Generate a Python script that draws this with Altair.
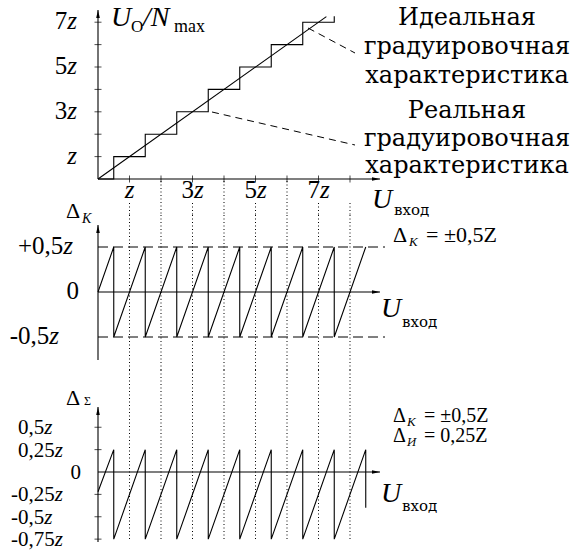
import altair as alt
import pandas as pd

# ---------------- values (units of z) ----------------
levels = [1, 2, 3, 4, 5, 6, 7]                 # output code levels
input_ticks = [1, 2, 3, 4, 5, 6, 7, 8]         # input voltage ticks

# ideal calibration line
ideal_u = [0.0, 7.25]
ideal_v = [0.0, 7.25]

# real (staircase) calibration characteristic
stair_u = [0.0, 0.5, 1.5, 2.5, 3.5, 4.5, 5.5, 6.5, 7.5, 7.5]
stair_v = [0.0, 1.0, 2.0, 3.0, 4.0, 5.0, 6.0, 7.0, 7.0, 7.27]

# quantisation error
err_u = [0.0, 0.5, 0.5, 1.5, 1.5, 2.5, 2.5, 3.5, 3.5, 4.5, 4.5, 5.5, 5.5, 6.5, 6.5, 7.5, 7.5, 8.5]
err_v = [0.0, 0.5, -0.5, 0.5, -0.5, 0.5, -0.5, 0.5, -0.5, 0.5, -0.5, 0.5, -0.5, 0.5, -0.5, 0.5, -0.5, 0.5]
err_limits = [0.5, -0.5]

# total error (quantisation + instrumental)
tot_u = [0.0, 0.5, 0.5, 1.5, 1.5, 2.5, 2.5, 3.5, 3.5, 4.5, 4.5, 5.5, 5.5, 6.5, 6.5, 7.5, 7.5, 8.5, 8.5]
tot_v = [-0.22, 0.25, -0.75, 0.25, -0.75, 0.25, -0.75, 0.25, -0.75, 0.25, -0.75, 0.25, -0.75,
         0.25, -0.75, 0.25, -0.75, 0.25, -0.4]
tot_ticks = [0.5, 0.25, -0.25, -0.5, -0.75]

# tick labels
top_y_vals = [1, 3, 5, 7]
top_y_text = ["z", "3z", "5z", "7z"]
top_x_vals = [1, 3, 5, 7]
top_x_text = ["z", "3z", "5z", "7z"]
mid_y_vals = [0.5, 0.0, -0.5]
mid_y_text = ["+0,5z", "0", "-0,5z"]
bot_y_vals = [0.5, 0.25, 0.0, -0.25, -0.5, -0.75]
bot_y_text = ["0,5z", "0,25z", "0", "-0,25z", "-0,5z", "-0,75z"]

ideal_label = ["Идеальная", "градуировочная", "характеристика"]
real_label = ["Реальная", "градуировочная", "характеристика"]

# ---------------- layout ----------------
W = 575
PXU = 31.5                       # pixels per z along the input axis
ORIGIN_X = 98
D0, D1 = -ORIGIN_X / PXU, (W - ORIGIN_X) / PXU
FONT = "serif"                   # Latin / Greek text
CYR_FONT = "DejaVu Serif"        # Cyrillic text
TICK_FS = 25
BOT_FS = 21
EQ_FS = 20
CHAR_W = {"0": .5, "1": .5, "2": .5, "3": .5, "4": .5, "5": .5, "6": .5, "7": .5, "8": .5,
          "9": .5, ",": .25, "-": .333, "+": .564}
Z_W = 0.389


def panel(offset, height, zero_y, scale):
    return dict(off=offset, h=height, zero=zero_y, s=scale,
                dom=[(zero_y - offset - height) / scale, (zero_y - offset) / scale])


TOP = panel(0, 215, 179, 22.4)
MID = panel(215, 155, 292, 90.0)
BOT = panel(370, 184, 472, 89.5)


def pu(px):
    return (px - ORIGIN_X) / PXU


def pv(p, py):
    return (p["zero"] - py) / p["s"]


def X(field="u"):
    return alt.X(f"{field}:Q", scale=alt.Scale(domain=[D0, D1], nice=False, zero=False), axis=None)


def Y(p, field="v"):
    return alt.Y(f"{field}:Q", scale=alt.Scale(domain=p["dom"], nice=False, zero=False), axis=None)


def segs(p, rows, **mk):
    df = pd.DataFrame(rows, columns=["u", "v", "u2", "v2"])
    return alt.Chart(df).mark_rule(color="black", **mk).encode(
        x=X(), y=Y(p), x2=alt.X2("u2:Q"), y2=alt.Y2("v2:Q"))


def polyline(p, us, vs, interp="linear", width=1.1):
    df = pd.DataFrame({"u": us, "v": vs, "i": range(len(us))})
    return alt.Chart(df).mark_line(color="black", strokeWidth=width, interpolate=interp).encode(
        x=X(), y=Y(p), order="i:Q")


ARROW = "M0,0L0.45,2L-0.45,2Z"


def arrows(p, rows):
    df = pd.DataFrame(rows, columns=["u", "v", "a"])
    return alt.Chart(df).mark_point(shape=ARROW, filled=True, size=64, color="black",
                                    opacity=1, strokeWidth=0).encode(
        x=X(), y=Y(p), angle=alt.Angle("a:Q", scale=None))


def ticks(p, us, vs, orient):
    df = pd.DataFrame({"u": us, "v": vs})
    return alt.Chart(df).mark_tick(orient=orient, size=7, thickness=1, color="black").encode(
        x=X(), y=Y(p))


def texts(p, rows, size, italic=False, align="left", dx=0, dy=0, font=FONT):
    df = pd.DataFrame(rows, columns=["u", "v", "t"])
    return alt.Chart(df).mark_text(font=font, fontSize=size, align=align, baseline="alphabetic",
                                   fontStyle="italic" if italic else "normal",
                                   color="black", dx=dx, dy=dy).encode(
        x=X(), y=Y(p), text="t:N")


def ann(p, items, size, italic=False, align="left", font=FONT):
    return texts(p, [(pu(x), pv(p, y), t) for x, y, t in items], size, italic, align, font=font)


def width(s, fs):
    return sum(CHAR_W.get(c, .5) for c in s) * fs


def split_left(vals, labels, left_px, zero_right_px, fs):
    """numeral part and italic z part of labels, left-aligned (minus sign hangs)."""
    nums, zs = [], []
    for v, s in zip(vals, labels):
        if s.endswith("z"):
            num = s[:-1]
            start = left_px - (width("-", fs) if num.startswith("-") else 0)
            nums.append((pu(start), v, num))
            zs.append((pu(start + width(num, fs)), v, "z"))
        else:
            nums.append((pu(zero_right_px - width(s, fs)), v, s))
    return nums, zs


def dotted(p, v_from, v_to, us):
    rows = [(u, a, u, b) for u, a, b in zip(us, v_from, v_to)]
    return segs(p, rows, strokeDash=[1, 2.5], strokeWidth=1)


# ---------------- top panel: calibration characteristics ----------------
zw = Z_W * TICK_FS
top_bottom = TOP["dom"][0]
dot_top_start = [pv(TOP, 203) if u % 2 == 1 or u == 8 else pv(TOP, 181) for u in input_ticks]

ty_num = [(pu(77 - zw), v, s[:-1]) for v, s in zip(top_y_vals, top_y_text) if len(s) > 1]
ty_z = [(pu(77), v, "z") for v in top_y_vals]
num_w = width("3", TICK_FS)
tx_num = [(u - ((num_w + zw) / 2) / PXU, 0, s[:-1]) for u, s in zip(top_x_vals, top_x_text) if len(s) > 1]
tx_z = [(u - ((num_w + zw) / 2) / PXU + num_w / PXU, 0, "z") for u, s in zip(top_x_vals, top_x_text) if len(s) > 1]
tx_z1 = [(u - (zw / 2) / PXU, 0, "z") for u, s in zip(top_x_vals, top_x_text) if len(s) == 1]

top = alt.layer(
    dotted(TOP, dot_top_start, [top_bottom] * len(input_ticks), input_ticks),
    segs(TOP, [(0, 0, pu(380), 0), (0, 0, 0, pv(TOP, 10))], strokeWidth=1.1),
    arrows(TOP, [(0, pv(TOP, 10), 0), (pu(380), 0, 90)]),
    ticks(TOP, [0] * len(levels), levels, "horizontal"),
    ticks(TOP, input_ticks, [0] * len(input_ticks), "vertical"),
    polyline(TOP, ideal_u, ideal_v),
    polyline(TOP, stair_u, stair_v, interp="step-after"),
    segs(TOP, [(pu(308), pv(TOP, 28), pu(355), pv(TOP, 53)),
               (pu(212), pv(TOP, 112), pu(355), pv(TOP, 145))],
         strokeDash=[7, 5], strokeWidth=1),
    texts(TOP, ty_num, TICK_FS, align="right", dy=7),
    texts(TOP, ty_z, TICK_FS, italic=True, align="right", dy=7),
    texts(TOP, tx_num, TICK_FS, align="left", dy=19),
    texts(TOP, tx_z + tx_z1, TICK_FS, italic=True, align="left", dy=19),
    ann(TOP, [(467, 25 + 29 * i, t) for i, t in enumerate(ideal_label)], 24, align="center",
        font=CYR_FONT),
    ann(TOP, [(467, 118 + 27.5 * i, t) for i, t in enumerate(real_label)], 24, align="center",
        font=CYR_FONT),
    ann(TOP, [(111, 26, "U"), (143, 26, "/N")], 28, italic=True),
    ann(TOP, [(131, 32, "O")], 17),
    ann(TOP, [(174, 32, "max")], 18),
    ann(TOP, [(372, 208, "U")], 28, italic=True),
    ann(TOP, [(394, 215, "вход")], 15, font=CYR_FONT),
).properties(width=W, height=TOP["h"])

# ---------------- middle panel: quantisation error ----------------
mid_nums, mid_zs = split_left(mid_y_vals, mid_y_text, 18, 79, TICK_FS)
mid = alt.layer(
    dotted(MID, [MID["dom"][1]] * 8, [MID["dom"][0]] * 8, input_ticks),
    segs(MID, [(0, e, pu(385), e) for e in err_limits], strokeDash=[10, 5], strokeWidth=1),
    segs(MID, [(0, 0, pu(380), 0), (0, pv(MID, 360), 0, pv(MID, 225))], strokeWidth=1.1),
    arrows(MID, [(0, pv(MID, 225), 0), (pu(380), 0, 90)]),
    polyline(MID, err_u, err_v),
    texts(MID, mid_nums, TICK_FS, dy=7),
    texts(MID, mid_zs, TICK_FS, italic=True, dy=7),
    ann(MID, [(66, 218, "Δ")], 22),
    ann(MID, [(393, 242, "Δ")], EQ_FS + 2),
    ann(MID, [(82, 223, "K")], 14, italic=True),
    ann(MID, [(409, 246, "K")], 13, italic=True),
    ann(MID, [(426, 242, "= ±0,5Z")], EQ_FS + 2),
    ann(MID, [(381, 317, "U")], 28, italic=True),
    ann(MID, [(402, 327, "вход")], 15, font=CYR_FONT),
).properties(width=W, height=MID["h"])

# ---------------- bottom panel: total error ----------------
bot_nums, bot_zs = split_left(bot_y_vals, bot_y_text, 18, 81, BOT_FS)
bot = alt.layer(
    dotted(BOT, [BOT["dom"][1]] * 8, [pv(BOT, 540)] * 8, input_ticks),
    segs(BOT, [(0, 0, pu(380), 0), (0, pv(BOT, 542), 0, pv(BOT, 407))], strokeWidth=1.1),
    arrows(BOT, [(0, pv(BOT, 407), 0), (pu(380), 0, 90)]),
    ticks(BOT, [0] * len(tot_ticks), tot_ticks, "horizontal"),
    polyline(BOT, tot_u, tot_v),
    texts(BOT, bot_nums, BOT_FS, dy=7),
    texts(BOT, bot_zs, BOT_FS, italic=True, dy=7),
    ann(BOT, [(66, 405, "Δ")], 22),
    ann(BOT, [(393, 422, "Δ"), (393, 442, "Δ")], EQ_FS),
    ann(BOT, [(84, 405, "Σ")], 12),
    ann(BOT, [(407, 426, "K")], 13, italic=True),
    ann(BOT, [(407, 446, "И")], 11, italic=True, font=CYR_FONT),
    ann(BOT, [(424, 422, "= ±0,5Z"), (424, 442, "= 0,25Z")], EQ_FS),
    ann(BOT, [(381, 502, "U")], 28, italic=True),
    ann(BOT, [(402, 511, "вход")], 15, font=CYR_FONT),
).properties(width=W, height=BOT["h"])

chart = (
    alt.vconcat(top, mid, bot, spacing=0, bounds="flush")
    .resolve_scale(x="independent", y="independent")
    .configure_view(stroke=None)
    .properties(padding=0, background="white")
)

chart.save("out.html", embed_options={"renderer": "svg", "actions": False})
